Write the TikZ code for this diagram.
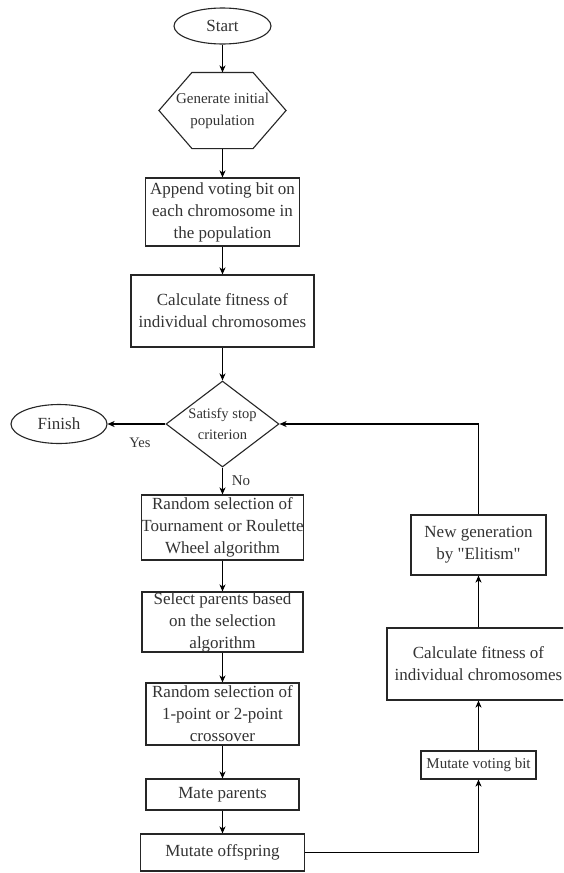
\documentclass[tikz,border=0pt]{standalone}
\usepackage{fontspec}
\setmainfont{Liberation Serif}
% a second family without TeX ligatures keeps straight double quotes
\newfontfamily\plainserif{Liberation Serif}
\usetikzlibrary{arrows.meta,shapes.geometric,calc}
\definecolor{ink}{HTML}{262626}
\definecolor{txt}{HTML}{333333}
\begin{document}
\begin{tikzpicture}[x=1pt,y=-1pt,
  line width=1.1pt,
  every node/.style={text=txt,align=center,inner sep=0pt},
  big/.style={font=\plainserif\fontsize{17}{22}\selectfont},
  small/.style={font=\plainserif\fontsize{15}{22}\selectfont},
  procbox/.style={draw=ink,rectangle,big},
  term/.style={draw=ink,ellipse,big},
  arr/.style={draw=black,-{Stealth[length=7pt,width=6pt,inset=2pt]}},
  lbl/.style={font=\plainserif\fontsize{14.5}{17}\selectfont}]
\clip (0,0) rectangle (563,873);
\fill[white] (0,0) rectangle (563,873);

% main column
\node[term,minimum width=97,minimum height=36] (start) at (222.5,26) {Start};
\node[small,minimum width=126,minimum height=75] (gen) at (222.5,110.5)
  {Generate initial\\population};
\draw[ink] (gen.west) -- ($(gen.north west)+(33,0)$) -- ($(gen.north east)+(-33,0)$)
  -- (gen.east) -- ($(gen.south east)+(-33,0)$) -- ($(gen.south west)+(33,0)$) -- cycle;
\node[procbox,minimum width=154,minimum height=68] (append) at (222.5,212)
  {Append voting bit on\\each chromosome in\\the population};
\node[procbox,minimum width=183,minimum height=72] (calcA) at (222.5,311)
  {Calculate fitness of\\individual chromosomes};
\node[draw=ink,diamond,aspect=1.314,minimum width=113,minimum height=86,
  font=\plainserif\fontsize{14.5}{21}\selectfont] (dec) at (222.5,424)
  {Satisfy stop\\criterion};
\node[term,minimum width=96,minimum height=39] (finish) at (59,424) {Finish};
\node[procbox,minimum width=154,minimum height=65] (rsel) at (222.5,527.5)
  {Random selection of\\Tournament or Roulette\\Wheel algorithm};
\node[procbox,minimum width=161,minimum height=60] (spar) at (222.5,622)
  {Select parents based\\on the selection\\algorithm};
\node[procbox,minimum width=153,minimum height=62] (rcross) at (222.5,714)
  {Random selection of\\1-point or 2-point\\crossover};
\node[procbox,minimum width=153,minimum height=31] (mate) at (222.5,794.5)
  {Mate parents};
\node[procbox,minimum width=164,minimum height=37] (mutoff) at (222.5,852.5)
  {Mutate offspring};

% right column
\node[procbox,small,minimum width=115,minimum height=28] (mvb) at (478.5,765)
  {Mutate voting bit};
\node[procbox,minimum width=183,minimum height=72] (calcB) at (478.5,664)
  {Calculate fitness of\\individual chromosomes};
\node[procbox,minimum width=135,minimum height=60] (newgen) at (478.5,545)
  {New generation\\by "Elitism"};

% connectors
\draw[arr] (start) -- (gen);
\draw[arr] (gen) -- (append);
\draw[arr] (append) -- (calcA);
\draw[arr] (calcA) -- (dec);
\draw[arr] (dec) -- (finish);
\node[lbl] (yes) at (140,443) {Yes};
\draw[arr] (dec) -- (rsel);
\node[lbl,font=\plainserif\fontsize{15}{17}\selectfont] (no) at (241,481) {No};
\draw[arr] (rsel) -- (spar);
\draw[arr] (spar) -- (rcross);
\draw[arr] (rcross) -- (mate);
\draw[arr] (mate) -- (mutoff);
\draw[arr] (mutoff.east) -| (mvb.south);
\draw[arr] (mvb) -- (calcB);
\draw[arr] (calcB) -- (newgen);
\draw[arr] (newgen.north) |- (dec.east);
\end{tikzpicture}
\end{document}
